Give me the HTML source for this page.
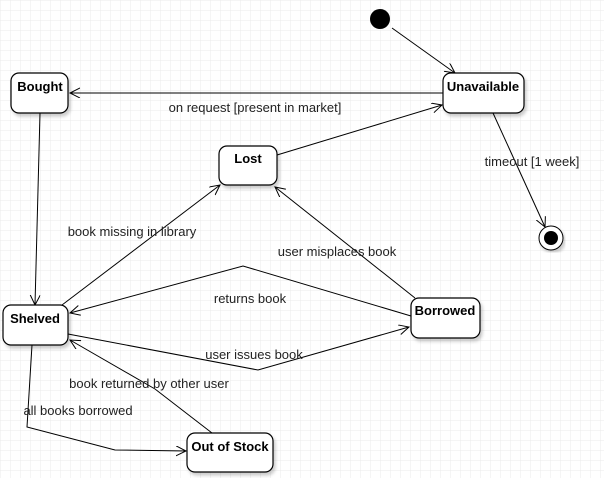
<!DOCTYPE html>
<html><head><style>
body{margin:0;width:604px;height:478px;overflow:hidden;background:#fff;}
</style></head><body>
<svg width="604" height="478" xmlns="http://www.w3.org/2000/svg" font-family="Liberation Sans, sans-serif">
<defs>
<pattern id="g" width="10" height="10" patternUnits="userSpaceOnUse"><path d="M10 0H0V10" fill="none" stroke="#ebebeb" stroke-width="1"/></pattern>
<marker id="a" markerWidth="12" markerHeight="12" refX="10" refY="5" orient="auto" markerUnits="userSpaceOnUse"><path d="M0 0L10 5L0 10" fill="none" stroke="#000" stroke-width="1"/></marker>
<filter id="s"><feDropShadow dx="2" dy="3" stdDeviation="1.5" flood-opacity="0.2"/></filter>
</defs>
<rect width="604" height="478" fill="url(#g)"/>
<g fill="none" stroke="#000" stroke-width="1">
<line x1="443" y1="93" x2="70" y2="93" marker-end="url(#a)"/>
<line x1="392" y1="28" x2="455" y2="73" marker-end="url(#a)"/>
<line x1="277" y1="155" x2="442" y2="105" marker-end="url(#a)"/>
<line x1="493" y1="113" x2="545" y2="227" marker-end="url(#a)"/>
<line x1="40" y1="113" x2="35" y2="305" marker-end="url(#a)"/>
<line x1="62" y1="305" x2="220" y2="185" marker-end="url(#a)"/>
<line x1="415" y1="298" x2="275" y2="187" marker-end="url(#a)"/>
<polyline points="411,316 243,266 70,313" marker-end="url(#a)"/>
<polyline points="68,334 258,370 409,327" marker-end="url(#a)"/>
<polyline points="212,433 155,389 70,340" marker-end="url(#a)"/>
<polyline points="32,345 27,427 115,450 186,451" marker-end="url(#a)"/>
</g>
<g fill="#fff" stroke="#000" stroke-width="1.2" filter="url(#s)">
<rect x="11" y="73" width="57" height="40" rx="8"/>
<rect x="443" y="73" width="81" height="40" rx="8"/>
<rect x="219" y="146" width="58" height="39" rx="8"/>
<rect x="3" y="305" width="65" height="40" rx="8"/>
<rect x="411" y="298" width="69" height="40" rx="8"/>
<rect x="187" y="433" width="86" height="39" rx="8"/>
</g>
<circle cx="380" cy="19" r="10" fill="#000"/>
<circle cx="551" cy="238" r="12" fill="#fff" stroke="#000" filter="url(#s)"/>
<circle cx="551" cy="238" r="7" fill="#000"/>
<g font-size="13" font-weight="bold" text-anchor="middle" fill="#000">
<text x="40" y="91">Bought</text>
<text x="483" y="91">Unavailable</text>
<text x="248" y="163">Lost</text>
<text x="35" y="323">Shelved</text>
<text x="445" y="315">Borrowed</text>
<text x="230" y="451">Out of Stock</text>
</g>
<g font-size="13" text-anchor="middle" fill="#222">
<text x="255" y="112">on request [present in market]</text>
<text x="532" y="166">timeout [1 week]</text>
<text x="132" y="236">book missing in library</text>
<text x="337" y="256">user misplaces book</text>
<text x="250" y="303">returns book</text>
<text x="254" y="359">user issues book</text>
<text x="149" y="388">book returned by other user</text>
<text x="78" y="415">all books borrowed</text>
</g>
</svg>
</body></html>
